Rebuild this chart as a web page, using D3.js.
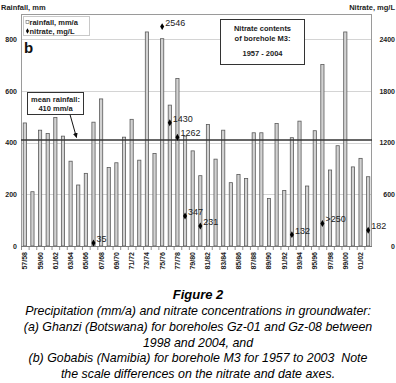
<!DOCTYPE html>
<html><head><meta charset="utf-8">
<script src="https://cdn.jsdelivr.net/npm/d3@7"></script>
<style>
html,body{margin:0;padding:0;background:#fff;}
svg{display:block;font-family:"Liberation Sans",Arial,sans-serif;}
</style></head>
<body>
<svg id="c" width="396" height="383"></svg>
<script>
const years = ["57/58","58/59","59/60","60/61","61/62","62/63","63/64","64/65","65/66","66/67","67/68","68/69","69/70","70/71","71/72","72/73","73/74","74/75","75/76","76/77","77/78","78/79","79/80","80/81","81/82","82/83","83/84","84/85","85/86","86/87","87/88","88/89","89/90","90/91","91/92","92/93","93/94","94/95","95/96","96/97","97/98","98/99","99/00","00/01","01/02","02/03"];
const rainfall = [476,210,448,435,497,425,328,236,281,479,569,304,322,421,490,332,828,358,802,545,648,425,368,272,470,336,448,245,277,261,438,438,184,474,215,419,483,232,446,702,294,388,828,306,339,268];
const nitrateYears = ["66/67","75/76","76/77","77/78","78/79","80/81","92/93","96/97","02/03"];
const nitrate = [35,2546,1430,1262,347,231,132,262,182];
const nitrateLabels = ["35","2546","1430","1262","347","231","132",">250","182"];
const rainTicks = [0,200,400,600,800];
const nitrateTicks = [0,600,1200,1800,2400];
const meanRainfall = 410;
const captionLines = ["Precipitation (mm/a) and nitrate concentrations in groundwater:","(a) Ghanzi (Botswana) for boreholes Gz-01 and Gz-08 between","1998 and 2004, and","(b) Gobabis (Namibia) for borehole M3 for 1957 to 2003  Note","the scale differences on the nitrate and date axes."];

const svg = d3.select("#c");
const L=21, R=372, T=14, B=246;
const x = d3.scaleBand().domain(years).range([L,R]).paddingInner(0).paddingOuter(0);
const y = d3.scaleLinear().domain([0,(B-T)/0.2585]).range([B,T]);
const y2 = d3.scaleLinear().domain([0,3*(B-T)/0.2585]).range([B,T]);

// gridlines
svg.append("g").selectAll("line").data(rainTicks.slice(1)).join("line")
  .attr("x1",L).attr("x2",R).attr("y1",d=>Math.round(y(d))+0.5).attr("y2",d=>Math.round(y(d))+0.5)
  .attr("stroke","#d4d4d4").attr("stroke-width",1);

// frame
svg.append("rect").attr("x",L+0.5).attr("y",T+0.5).attr("width",R-L-1).attr("height",B-T)
  .attr("fill","none").attr("stroke","#9a9a9a").attr("stroke-width",1);

// bars
const bw = 3.2;
svg.append("g").selectAll("rect").data(rainfall).join("rect")
  .attr("x",(d,i)=>x(years[i])+x.bandwidth()/2-bw/2)
  .attr("y",d=>y(d)).attr("width",bw).attr("height",d=>B-y(d))
  .attr("fill","#d2d2d2").attr("stroke","#5a5a5a").attr("stroke-width",0.8);

// mean line
svg.append("line").attr("x1",L).attr("x2",R).attr("y1",y(meanRainfall)).attr("y2",y(meanRainfall))
  .attr("stroke","#333").attr("stroke-width",1.6);

// axes
const axL = d3.axisLeft(y).tickValues(rainTicks).tickSize(0).tickPadding(4).tickFormat(d3.format("d"));
const gl = svg.append("g").attr("transform",`translate(${L},0)`).call(axL);
gl.select(".domain").remove();
gl.selectAll("text").attr("font-size",7).attr("font-weight","bold").attr("fill","#222");

const axR = d3.axisRight(y2).tickValues(nitrateTicks).tickSize(0).tickPadding(0).tickFormat(d3.format("d"));
const gr = svg.append("g").attr("transform",`translate(395,0)`).call(axR);
gr.select(".domain").remove();
gr.selectAll("text").attr("font-size",7).attr("font-weight","bold").attr("fill","#222").attr("text-anchor","end");

// bottom ticks
svg.append("g").selectAll("line").data(years).join("line")
  .attr("x1",d=>x(d)+0.5).attr("x2",d=>x(d)+0.5).attr("y1",B).attr("y2",B+4)
  .attr("stroke","#777").attr("stroke-width",0.8);
svg.append("line").attr("x1",L).attr("x2",R).attr("y1",B+0.5).attr("y2",B+0.5).attr("stroke","#777");

// x labels
svg.append("g").selectAll("text").data(years.filter((d,i)=>i%2===0)).join("text")
  .attr("transform",d=>`translate(${x(d)+x.bandwidth()/2+2.5},${B+6}) rotate(-90)`)
  .attr("text-anchor","end").attr("font-size",7).attr("font-weight","bold").attr("fill","#222")
  .text(d=>d);

// nitrate points
const pts = svg.append("g");
nitrate.forEach((v,i)=>{
  const cx = x(nitrateYears[i])+x.bandwidth()/2, cy = y2(v);
  pts.append("path").attr("d",d3.symbol(d3.symbolDiamond,14)()).attr("transform",`translate(${cx},${cy})`).attr("fill","#000");
  pts.append("text").attr("x",cx+3).attr("y",cy-1).attr("font-size",9).attr("fill","#222").text(nitrateLabels[i]);
});

// axis titles
svg.append("text").attr("x",1).attr("y",10).attr("font-size",7.5).attr("font-weight","bold").attr("fill","#222").text("Rainfall, mm");
svg.append("text").attr("x",395).attr("y",10).attr("text-anchor","end").attr("font-size",7.5).attr("font-weight","bold").attr("fill","#222").text("Nitrate, mg/L");

// legend
svg.append("rect").attr("x",23.5).attr("y",16.5).attr("width",66).attr("height",19).attr("fill","#fff").attr("stroke","#c8c8c8");
svg.append("rect").attr("x",26).attr("y",20.5).attr("width",3).attr("height",3).attr("fill","#fff").attr("stroke","#666").attr("stroke-width",0.6);
svg.append("text").attr("x",29.5).attr("y",25).attr("font-size",7.5).attr("font-weight","bold").attr("fill","#222").text("rainfall, mm/a");
svg.append("path").attr("d",d3.symbol(d3.symbolDiamond,8)()).attr("transform","translate(27.5,31)").attr("fill","#000");
svg.append("text").attr("x",29.5).attr("y",33.5).attr("font-size",7.5).attr("font-weight","bold").attr("fill","#222").text("nitrate, mg/L");

// b label
svg.append("text").attr("x",24).attr("y",53).attr("font-size",15).attr("font-weight","bold").attr("fill","#111").text("b");

// mean rainfall annotation
svg.append("defs").append("marker").attr("id","ah").attr("viewBox","0 0 10 10").attr("refX",9).attr("refY",5)
  .attr("markerWidth",5).attr("markerHeight",5).attr("orient","auto")
  .append("path").attr("d","M0,0L10,5L0,10z").attr("fill","#111");
svg.append("line").attr("x1",70).attr("y1",114.5).attr("x2",76.5).attr("y2",137.5).attr("stroke","#111").attr("stroke-width",1).attr("marker-end","url(#ah)");
svg.append("rect").attr("x",27.5).attr("y",92.5).attr("width",56).attr("height",22).attr("fill","#fff").attr("stroke","#333").attr("stroke-width",1);
svg.append("text").attr("x",55.5).attr("y",101.5).attr("text-anchor","middle").attr("font-size",7.5).attr("font-weight","bold").attr("fill","#222").text("mean rainfall:");
svg.append("text").attr("x",55.5).attr("y",111).attr("text-anchor","middle").attr("font-size",7.5).attr("font-weight","bold").attr("fill","#222").text("410 mm/a");

// nitrate contents box
svg.append("rect").attr("x",220.5).attr("y",19.5).attr("width",84).attr("height",45).attr("fill","#fff").attr("stroke","#333").attr("stroke-width",1);
[["Nitrate contents",31],["of borehole M3:",41],["1957 - 2004",56]].forEach(([t,yy])=>{
  svg.append("text").attr("x",262.5).attr("y",yy).attr("text-anchor","middle").attr("font-size",7.5).attr("font-weight","bold").attr("fill","#222").text(t);
});

// caption
svg.append("text").attr("x",198).attr("y",299).attr("text-anchor","middle").attr("font-size",13).attr("font-weight","bold").attr("font-style","italic").attr("fill","#000").text("Figure 2");
captionLines.forEach((t,i)=>{
  svg.append("text").attr("x",198).attr("y",315+i*15.8).attr("text-anchor","middle").attr("font-size",12.4).attr("font-style","italic").attr("fill","#000").style("white-space","pre").text(t);
});
</script>
</body></html>
